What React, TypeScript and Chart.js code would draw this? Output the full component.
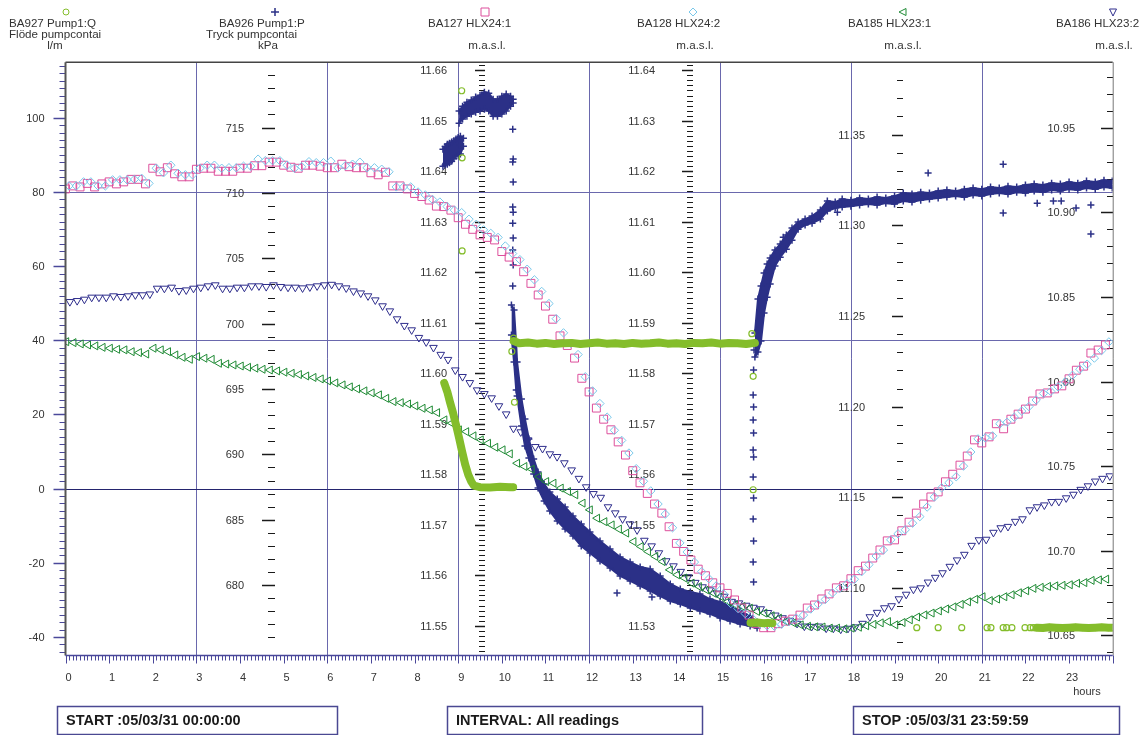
import React, { useEffect, useRef } from "react";
import { Chart, registerables } from "chart.js";

Chart.register(...registerables);

const WIDTH = 1146;
const HEIGHT = 735;
const PLOT = { left: 65.5, top: 62.2, right: 1112.7, bottom: 655.5 };

// Level loggers record every 10 minutes from 00:00
const STEP_H = 1 / 6;

// BA127 HLX24:1 (m.a.s.l.)
const ba127Level = [
  11.6365, 11.6371, 11.6369, 11.6376, 11.6369, 11.6375, 11.6379, 11.6375, 11.6379, 11.6384,
  11.6384, 11.6375, 11.6406, 11.6399, 11.6407, 11.6395, 11.6389, 11.6389, 11.6404, 11.6406,
  11.6406, 11.6400, 11.6400, 11.6400, 11.6406, 11.6406, 11.6411, 11.6411, 11.6418, 11.6418,
  11.6412, 11.6408, 11.6406, 11.6412, 11.6412, 11.6410, 11.6407, 11.6407, 11.6414, 11.6409,
  11.6407, 11.6407, 11.6397, 11.6393, 11.6398, 11.6371, 11.6371, 11.6365, 11.6356, 11.6350,
  11.6343, 11.6331, 11.6330, 11.6323, 11.6308, 11.6295, 11.6285, 11.6274, 11.6269, 11.6264,
  11.6241, 11.6230, 11.6221, 11.6201, 11.6178, 11.6155, 11.6133, 11.6107, 11.6074, 11.6055,
  11.6030, 11.5990, 11.5963, 11.5931, 11.5909, 11.5888, 11.5864, 11.5838, 11.5807, 11.5783,
  11.5762, 11.5741, 11.5723, 11.5696, 11.5663, 11.5647, 11.5630, 11.5612, 11.5599, 11.5585,
  11.5575, 11.5564, 11.5551, 11.5535, 11.5521, 11.5504, 11.5496, 11.5496, 11.5504, 11.5509,
  11.5513, 11.5521, 11.5535, 11.5541, 11.5553, 11.5563, 11.5575, 11.5579, 11.5593, 11.5609,
  11.5618, 11.5634, 11.5650, 11.5668, 11.5670, 11.5688, 11.5705, 11.5723, 11.5741, 11.5755,
  11.5765, 11.5785, 11.5800, 11.5818, 11.5836, 11.5868, 11.5862, 11.5874, 11.5900, 11.5890,
  11.5909, 11.5919, 11.5929, 11.5945, 11.5959, 11.5961, 11.5969, 11.5975, 11.5989, 11.6006,
  11.6014, 11.6040, 11.6046, 11.6056,
];

// BA128 HLX24:2 (m.a.s.l.)
const ba128Level = [
  11.6171, 11.6171, 11.6179, 11.6179, 11.6171, 11.6171, 11.6183, 11.6183, 11.6183, 11.6184,
  11.6186, 11.6176, 11.6206, 11.6197, 11.6212, 11.6196, 11.6193, 11.6193, 11.6206, 11.6212,
  11.6212, 11.6206, 11.6207, 11.6207, 11.6210, 11.6210, 11.6224, 11.6221, 11.6221, 11.6221,
  11.6212, 11.6206, 11.6209, 11.6219, 11.6217, 11.6217, 11.6220, 11.6207, 11.6211, 11.6214,
  11.6218, 11.6207, 11.6207, 11.6204, 11.6199, 11.6169, 11.6169, 11.6169, 11.6159, 11.6153,
  11.6144, 11.6139, 11.6130, 11.6123, 11.6118, 11.6105, 11.6095, 11.6084, 11.6077, 11.6069,
  11.6052, 11.6037, 11.6025, 11.6006, 11.5985, 11.5962, 11.5938, 11.5908, 11.5880, 11.5859,
  11.5837, 11.5793, 11.5765, 11.5740, 11.5713, 11.5687, 11.5667, 11.5642, 11.5611, 11.5586,
  11.5567, 11.5541, 11.5521, 11.5494, 11.5464, 11.5446, 11.5426, 11.5407, 11.5393, 11.5379,
  11.5363, 11.5344, 11.5334, 11.5324, 11.5314, 11.5304, 11.5300, 11.5299, 11.5303, 11.5308,
  11.5315, 11.5321, 11.5333, 11.5343, 11.5352, 11.5365, 11.5374, 11.5383, 11.5392, 11.5407,
  11.5421, 11.5438, 11.5450, 11.5470, 11.5482, 11.5490, 11.5503, 11.5516, 11.5535, 11.5555,
  11.5573, 11.5583, 11.5595, 11.5616, 11.5644, 11.5670, 11.5672, 11.5676, 11.5700, 11.5703,
  11.5713, 11.5725, 11.5734, 11.5747, 11.5760, 11.5764, 11.5773, 11.5783, 11.5796, 11.5808,
  11.5818, 11.5830, 11.5845, 11.5862,
];

// BA185 HLX23:1 (m.a.s.l.)
const ba185Level = [
  11.2358, 11.2353, 11.2346, 11.2340, 11.2335, 11.2327, 11.2322, 11.2316, 11.2313, 11.2303,
  11.2298, 11.2290, 11.2322, 11.2313, 11.2303, 11.2285, 11.2272, 11.2261, 11.2276, 11.2267,
  11.2261, 11.2239, 11.2235, 11.2230, 11.2224, 11.2217, 11.2212, 11.2206, 11.2202, 11.2197,
  11.2190, 11.2184, 11.2177, 11.2169, 11.2161, 11.2153, 11.2142, 11.2131, 11.2120, 11.2109,
  11.2098, 11.2087, 11.2076, 11.2065, 11.2046, 11.2028, 11.2022, 11.2015, 11.2004, 11.1991,
  11.1982, 11.1967, 11.1927, 11.1909, 11.1872, 11.1862, 11.1839, 11.1817, 11.1798, 11.1776,
  11.1762, 11.1740, 11.1688, 11.1670, 11.1655, 11.1614, 11.1587, 11.1578, 11.1551, 11.1532,
  11.1514, 11.1468, 11.1431, 11.1385, 11.1366, 11.1348, 11.1325, 11.1303, 11.1256, 11.1229,
  11.1201, 11.1174, 11.1146, 11.1100, 11.1073, 11.1055, 11.1027, 11.1008, 11.0990, 11.0972,
  11.0953, 11.0926, 11.0907, 11.0898, 11.0889, 11.0871, 11.0862, 11.0847, 11.0834, 11.0815,
  11.0808, 11.0797, 11.0789, 11.0786, 11.0785, 11.0779, 11.0779, 11.0775, 11.0779, 11.0784,
  11.0792, 11.0800, 11.0808, 11.0815, 11.0797, 11.0810, 11.0825, 11.0840, 11.0852, 11.0862,
  11.0874, 11.0885, 11.0896, 11.0910, 11.0924, 11.0938, 11.0952, 11.0931, 11.0939, 11.0952,
  11.0963, 11.0974, 11.0985, 11.0998, 11.1004, 11.1009, 11.1012, 11.1015, 11.1018, 11.1026,
  11.1030, 11.1042, 11.1045, 11.1049,
];

// BA186 HLX23:2 (m.a.s.l.)
const ba186Level = [
  10.8472, 10.8478, 10.8486, 10.8498, 10.8498, 10.8498, 10.8506, 10.8502, 10.8506, 10.8512,
  10.8512, 10.8517, 10.8551, 10.8551, 10.8557, 10.8537, 10.8541, 10.8551, 10.8557, 10.8565,
  10.8571, 10.8551, 10.8551, 10.8557, 10.8557, 10.8565, 10.8565, 10.8561, 10.8571, 10.8561,
  10.8557, 10.8557, 10.8553, 10.8559, 10.8565, 10.8571, 10.8574, 10.8565, 10.8553, 10.8535,
  10.8523, 10.8506, 10.8482, 10.8447, 10.8417, 10.8370, 10.8331, 10.8305, 10.8260, 10.8234,
  10.8201, 10.8160, 10.8130, 10.8068, 10.8029, 10.7993, 10.7950, 10.7928, 10.7903, 10.7856,
  10.7808, 10.7723, 10.7702, 10.7655, 10.7615, 10.7604, 10.7572, 10.7556, 10.7519, 10.7477,
  10.7427, 10.7377, 10.7337, 10.7315, 10.7259, 10.7223, 10.7188, 10.7158, 10.7123, 10.7061,
  10.7028, 10.6987, 10.6940, 10.6910, 10.6877, 10.6845, 10.6812, 10.6786, 10.6768, 10.6749,
  10.6730, 10.6700, 10.6691, 10.6677, 10.6665, 10.6656, 10.6634, 10.6619, 10.6603, 10.6588,
  10.6570, 10.6554, 10.6552, 10.6554, 10.6542, 10.6542, 10.6536, 10.6541, 10.6549, 10.6570,
  10.6609, 10.6635, 10.6662, 10.6674, 10.6715, 10.6742, 10.6772, 10.6780, 10.6814, 10.6842,
  10.6869, 10.6907, 10.6945, 10.6978, 10.7031, 10.7064, 10.7067, 10.7108, 10.7135, 10.7143,
  10.7173, 10.7188, 10.7241, 10.7259, 10.7270, 10.7290, 10.7291, 10.7312, 10.7333, 10.7362,
  10.7383, 10.7411, 10.7427, 10.7442,
];

// First-reading offsets of each logger (hours after 00:00)
const ba127Start = 0.0;
const ba128Start = 0.08;
const ba185Start = 0.02;
const ba186Start = 0.1;

// BA926 Pump1:P (kPa): dense readings given as [hour, low, high] of the reading band
const pumpBandA = [
  [8.65, 712.05, 713.35], [8.70, 712.13, 713.55], [8.75, 712.2, 713.73], [8.8, 712.3, 713.81],
  [8.85, 712.43, 713.89], [8.9, 712.62, 714.0], [8.95, 712.82, 714.12], [9.0, 712.9, 714.25],
  [9.05, 712.97, 714.34], [9.12, 713.58, 714.19],
];
const pumpBandB = [
  [9.02, 715.34, 716.26], [9.1, 715.65, 716.64], [9.2, 715.87, 716.94], [9.3, 716.03, 717.1],
  [9.4, 716.18, 717.33], [9.5, 716.26, 717.48], [9.6, 716.41, 717.71], [9.7, 716.26, 717.63],
  [9.8, 715.87, 717.17], [9.9, 715.87, 717.17], [10.0, 716.03, 717.4], [10.1, 716.26, 717.56],
  [10.2, 716.64, 717.4], [10.26, 716.87, 717.17],
];
const pumpBandC = [
  [10.22, 699.13, 701.42], [10.28, 697.07, 701.04], [10.33, 694.92, 698.37], [10.35, 694.47, 697.07],
  [10.45, 692.17, 694.24], [10.53, 690.64, 692.71], [10.62, 689.72, 691.18], [10.73, 688.5, 689.65],
  [10.83, 687.43, 688.65], [10.97, 686.44, 687.74], [11.1, 685.67, 687.12], [11.27, 684.91, 686.59],
  [11.45, 684.3, 685.98], [11.63, 683.76, 685.29], [11.82, 683.0, 684.68], [12.02, 682.46, 684.07],
  [12.25, 681.85, 683.38], [12.48, 681.32, 682.77], [12.71, 680.7, 682.16], [12.94, 680.32, 681.77],
  [13.17, 679.94, 681.39], [13.4, 679.56, 681.24], [13.63, 679.17, 680.7], [13.86, 678.79, 680.09],
  [14.09, 678.56, 679.71], [14.32, 678.26, 679.48], [14.54, 678.03, 679.33], [14.77, 677.8, 678.94],
  [15.0, 677.49, 678.71], [15.23, 677.26, 678.41], [15.46, 677.03, 678.03], [15.69, 676.88, 677.64],
  [15.85, 676.73, 677.18],
];
const pumpBandD = [
  [15.8, 697.45, 699.28], [15.87, 697.83, 701.88], [15.94, 698.67, 702.88], [16.01, 700.81, 703.87],
  [16.08, 702.03, 704.56], [16.15, 703.03, 705.02], [16.26, 704.41, 705.63], [16.38, 705.09, 706.09],
  [16.52, 705.7, 706.78], [16.65, 706.39, 707.31], [16.79, 707.23, 707.77], [16.95, 707.54, 708.0],
  [17.11, 707.69, 708.23], [17.3, 708.0, 708.69], [17.46, 708.61, 709.38], [17.64, 708.84, 709.3],
  [17.8, 708.92, 709.53], [18.0, 708.99, 709.45], [18.2, 709.07, 709.61], [18.4, 709.15, 709.53],
  [18.6, 709.07, 709.68], [18.8, 709.22, 709.61], [19.0, 709.15, 709.76], [19.2, 709.38, 709.99],
  [19.4, 709.3, 709.91], [19.6, 709.45, 710.06], [19.8, 709.53, 709.99], [20.0, 709.61, 710.14],
  [20.2, 709.68, 710.22], [20.4, 709.76, 710.14], [20.6, 709.68, 710.29], [20.8, 709.84, 710.37],
  [21.0, 709.76, 710.29], [21.2, 709.91, 710.45], [21.4, 709.99, 710.37], [21.6, 709.91, 710.52],
  [21.8, 710.06, 710.45], [22.0, 709.99, 710.6], [22.2, 710.14, 710.68], [22.4, 710.06, 710.6],
  [22.6, 710.22, 710.75], [22.8, 710.14, 710.68], [23.0, 710.29, 710.83], [23.2, 710.22, 710.75],
  [23.4, 710.37, 710.91], [23.6, 710.29, 710.83], [23.8, 710.45, 710.98], [23.99, 710.37, 710.91],
];
// Single pressure readings outside the dense bands [hour, kPa]
const pumpSingles = [
  [9.03, 713.66],
  [10.25, 714.88], [10.26, 712.59], [10.25, 712.36], [10.26, 710.83], [10.25, 708.92], [10.26, 708.53],
  [10.25, 707.69], [10.26, 706.55], [10.25, 705.63], [10.26, 704.48], [10.25, 702.88],
  [12.64, 679.4], [13.44, 679.09],
  [15.77, 680.24], [15.76, 681.77], [15.77, 683.38], [15.76, 685.06], [15.77, 686.67], [15.76, 688.27],
  [15.77, 689.8], [15.76, 690.34], [15.77, 691.64], [15.76, 692.63], [15.77, 693.63], [15.76, 694.54],
  [15.77, 696.45], [15.78, 697.98],
  [16.45, 706.62], [17.69, 708.53], [19.77, 711.52], [21.49, 712.2], [21.49, 708.46], [22.27, 709.22],
  [22.64, 709.38], [22.82, 709.38], [23.16, 708.84], [23.5, 709.07], [23.5, 706.85],
];

// BA927 Pump1:Q (l/m): continuous runs [hour, l/m]
const flowRampDown = [
  [8.68, 28.5], [8.75, 26.1], [8.81, 23.4], [8.88, 20.5], [8.95, 17.2], [9.02, 13.7], [9.09, 10.0],
  [9.16, 6.5], [9.23, 3.8], [9.3, 1.9], [9.36, 0.8], [9.5, 0.4], [9.73, 0.3], [9.96, 0.5], [10.19, 0.4],
  [10.26, 0.4],
];
const flowPumping = [
  [10.27, 39.8], [10.4, 39.2], [10.6, 39.4], [10.8, 39.1], [11.0, 39.3], [11.2, 39.0], [11.4, 39.2],
  [11.6, 39.3], [11.8, 39.0], [12.0, 39.2], [12.2, 39.4], [12.4, 39.1], [12.6, 39.2], [12.8, 39.0],
  [13.0, 39.3], [13.2, 39.1], [13.4, 39.2], [13.6, 39.4], [13.8, 39.1], [14.0, 39.2], [14.2, 39.0],
  [14.4, 39.3], [14.6, 39.2], [14.8, 39.4], [15.0, 39.1], [15.2, 39.3], [15.4, 39.2], [15.6, 39.0],
  [15.8, 39.3],
];
const flowAfterStop = [[15.7, -36.2], [15.85, -36.1], [16.0, -36.3], [16.1, -36.2], [16.2, -36.3]];
const flowEvening = [
  [22.26, -37.5], [22.4, -37.6], [22.55, -37.4], [22.7, -37.5], [22.85, -37.6], [23.0, -37.5],
  [23.15, -37.4], [23.3, -37.5], [23.45, -37.6], [23.6, -37.5], [23.75, -37.4], [23.9, -37.5], [24.0, -37.5],
];
const flowSingles = [
  [9.08, 107.3], [9.09, 89.2], [9.09, 64.1], [10.23, 37.0], [10.29, 23.3], [10.27, 40.6],
  [15.73, 41.8], [15.76, 30.3], [15.76, -0.3],
  [19.51, -37.5], [20.0, -37.5], [20.54, -37.5], [21.12, -37.5], [21.21, -37.5], [21.49, -37.5],
  [21.57, -37.5], [21.69, -37.5], [21.99, -37.5], [22.11, -37.5], [22.18, -37.5],
];

// Axis ranges
const X_RANGE = [0, 24];
const FLOW_RANGE = [-45, 115];
const KPA_RANGE = [674.62, 720.0];
const HLX241_RANGE = [11.5441, 11.6616];
const HLX242_RANGE = [11.5241, 11.6416];
const HLX231_RANGE = [11.0628, 11.3899];
const HLX232_RANGE = [10.6381, 10.9888];

const gridHours = [3, 6, 9, 12, 15, 18, 21];
const gridFlows = [80, 40];
const xTickLabels = Array.from({ length: 24 }, (_, h) => String(h));

// Colours
const LIME = "#84bd2b";
const PUMP_NAVY = "#2b3087";
const PINK = "#dd4f9c";
const SKY = "#79c8ea";
const LEAF = "#1e8a34";
const TRI_NAVY = "#2e2d8c";
const GRID = "#6a68ad";
const ZERO = "#24246e";
const AXIS_NAVY = "#4a489a";
const TEXT = "#333333";
const FONT = "11px 'Liberation Sans', Arial, sans-serif";
const HEAD_FONT = "11.6px 'Liberation Sans', Arial, sans-serif";
const BOLD = "bold 14.5px 'Liberation Sans', Arial, sans-serif";

// Interior level/pressure axes
const innerAxes = [
  { id: "kpa", hour: 4.81, minor: 1, ratio: 5, dec: 0, from: 680, to: 715, tickMin: 676, tickMax: 719, gap: 31, major: 13, minorLen: 7 },
  { id: "hlx241", hour: 9.614, minor: 0.001, ratio: 10, dec: 2, from: 11.55, to: 11.66, gap: 38, major: 10, minorLen: 6 },
  { id: "hlx242", hour: 14.388, minor: 0.001, ratio: 10, dec: 2, from: 11.53, to: 11.64, gap: 38, major: 11, minorLen: 6 },
  { id: "hlx231", hour: 19.201, minor: 0.01, ratio: 5, dec: 2, from: 11.1, to: 11.35, gap: 38, major: 11, minorLen: 6 },
  { id: "hlx232", hour: 24, minor: 0.01, ratio: 5, dec: 2, from: 10.65, to: 10.95, gap: 38, major: 12, minorLen: 6 },
];

const headers = [
  { sym: "circle", hour: 0, color: LIME, lines: [["BA927 Pump1:Q", "left", 9, 24], ["Flöde pumpcontai", "left", 9, 35], ["l/m", "center", 55, 46]] },
  { sym: "cross", hour: 4.81, color: PUMP_NAVY, lines: [["BA926 Pump1:P", "left", 219, 24], ["Tryck pumpcontai", "left", 206, 35], ["kPa", "center", 268, 46]] },
  { sym: "square", hour: 9.614, color: PINK, lines: [["BA127 HLX24:1", "left", 428, 24], ["m.a.s.l.", "center", 487, 46]] },
  { sym: "diamond", hour: 14.388, color: SKY, lines: [["BA128 HLX24:2", "left", 637, 24], ["m.a.s.l.", "center", 695, 46]] },
  { sym: "tleft", hour: 19.201, color: LEAF, lines: [["BA185 HLX23:1", "left", 848, 24], ["m.a.s.l.", "center", 903, 46]] },
  { sym: "tdown", hour: 24, color: TRI_NAVY, lines: [["BA186 HLX23:2", "left", 1056, 24], ["m.a.s.l.", "center", 1114, 46]] },
];

const infoBoxes = [
  { text: "START :05/03/31 00:00:00", x: 57, w: 280 },
  { text: "INTERVAL: All readings", x: 447, w: 255 },
  { text: "STOP :05/03/31 23:59:59", x: 853, w: 266 },
];

function seg(ctx: CanvasRenderingContext2D, x1: number, y1: number, x2: number, y2: number) {
  ctx.beginPath();
  ctx.moveTo(x1, y1);
  ctx.lineTo(x2, y2);
  ctx.stroke();
}

function drawSymbol(ctx: CanvasRenderingContext2D, kind: string, cx: number, cy: number, color: string) {
  ctx.save();
  ctx.strokeStyle = color;
  ctx.lineWidth = 1;
  ctx.beginPath();
  if (kind === "circle") ctx.arc(cx, cy, 3, 0, Math.PI * 2);
  if (kind === "cross") {
    ctx.lineWidth = 1.5;
    ctx.moveTo(cx - 4, cy); ctx.lineTo(cx + 4, cy);
    ctx.moveTo(cx, cy - 4); ctx.lineTo(cx, cy + 4);
  }
  if (kind === "square") ctx.rect(cx - 4, cy - 4, 8, 8);
  if (kind === "diamond") {
    ctx.moveTo(cx - 4, cy); ctx.lineTo(cx, cy - 4); ctx.lineTo(cx + 4, cy); ctx.lineTo(cx, cy + 4); ctx.closePath();
  }
  if (kind === "tleft") {
    ctx.moveTo(cx - 4, cy); ctx.lineTo(cx + 3, cy - 3.5); ctx.lineTo(cx + 3, cy + 3.5); ctx.closePath();
  }
  if (kind === "tdown") {
    ctx.moveTo(cx - 3.5, cy - 3); ctx.lineTo(cx + 3.5, cy - 3); ctx.lineTo(cx, cy + 4); ctx.closePath();
  }
  ctx.stroke();
  ctx.restore();
}

const framePlugin = {
  id: "frame",
  beforeDatasetsDraw(chart: any) {
    const { ctx, chartArea: a, scales } = chart;
    const xs = scales.x;
    const fy = scales.flow;
    ctx.save();
    ctx.lineWidth = 1;

    ctx.strokeStyle = GRID;
    gridHours.forEach((h) => {
      const p = Math.round(xs.getPixelForValue(h)) + 0.5;
      seg(ctx, p, a.top, p, a.bottom);
    });
    gridFlows.forEach((v) => {
      const p = Math.round(fy.getPixelForValue(v)) + 0.5;
      seg(ctx, a.left, p, a.right, p);
    });
    ctx.strokeStyle = ZERO;
    const z = Math.round(fy.getPixelForValue(0)) + 0.5;
    seg(ctx, a.left, z, a.right, z);

    // flow axis on the left edge
    ctx.font = FONT;
    ctx.fillStyle = TEXT;
    ctx.textAlign = "right";
    ctx.textBaseline = "middle";
    ctx.strokeStyle = AXIS_NAVY;
    for (let v = -44; v <= 114; v += 2) {
      const p = Math.round(fy.getPixelForValue(v)) + 0.5;
      const major = v % 20 === 0;
      ctx.lineWidth = major ? 1.5 : 1;
      seg(ctx, a.left - (major ? 12 : 6), p, a.left, p);
      if (major) ctx.fillText(String(v), a.left - 21, p);
    }

    // interior axes
    innerAxes.forEach((ax) => {
      const sc = scales[ax.id];
      const px = Math.round(xs.getPixelForValue(ax.hour));
      const lo = ax.tickMin ?? sc.min;
      const hi = ax.tickMax ?? sc.max;
      const k0 = Math.ceil(lo / ax.minor - 1e-6);
      const k1 = Math.floor(hi / ax.minor + 1e-6);
      ctx.strokeStyle = "#1a1a1a";
      for (let k = k0; k <= k1; k++) {
        const v = k * ax.minor;
        const p = Math.round(sc.getPixelForValue(v)) + 0.5;
        const major = k % ax.ratio === 0;
        ctx.lineWidth = major ? 1.5 : 1;
        seg(ctx, px - (major ? ax.major : ax.minorLen), p, px, p);
        if (major && v >= ax.from - 1e-6 && v <= ax.to + 1e-6) {
          ctx.fillText(v.toFixed(ax.dec), px - ax.gap, p);
        }
      }
    });
    ctx.restore();
  },
  afterDatasetsDraw(chart: any) {
    const { ctx, chartArea: a, scales } = chart;
    const xs = scales.x;
    ctx.save();
    // frame
    ctx.strokeStyle = "#444";
    ctx.lineWidth = 1.5;
    seg(ctx, a.left, a.top, a.right, a.top);
    ctx.lineWidth = 2;
    ctx.strokeStyle = "#555";
    seg(ctx, a.left, a.top, a.left, a.bottom);
    ctx.lineWidth = 1;
    ctx.strokeStyle = "#777";
    seg(ctx, a.right + 0.5, a.top, a.right + 0.5, a.bottom);

    // time axis
    ctx.strokeStyle = AXIS_NAVY;
    ctx.lineWidth = 1.5;
    seg(ctx, a.left, a.bottom, a.right, a.bottom);
    ctx.lineWidth = 1;
    for (let m = 0; m <= 288; m++) {
      const p = Math.round(xs.getPixelForValue(m / 12)) + 0.5;
      seg(ctx, p, a.bottom, p, a.bottom + (m % 12 === 0 ? 8 : 5));
    }
    ctx.font = FONT;
    ctx.fillStyle = TEXT;
    ctx.textAlign = "center";
    ctx.textBaseline = "middle";
    xTickLabels.forEach((t, h) => ctx.fillText(t, xs.getPixelForValue(h) + 3, a.bottom + 22));
    ctx.fillText("hours", 1087, 692);
    ctx.restore();
  },
  afterDraw(chart: any) {
    const { ctx, scales } = chart;
    const xs = scales.x;
    ctx.save();
    ctx.font = HEAD_FONT;
    ctx.fillStyle = TEXT;
    ctx.textBaseline = "middle";
    headers.forEach((h) => {
      drawSymbol(ctx, h.sym, Math.round(xs.getPixelForValue(h.hour)), 12, h.color);
      h.lines.forEach(([t, align, x, y]: any) => {
        ctx.textAlign = align;
        ctx.fillText(t, x, y);
      });
    });
    ctx.font = BOLD;
    ctx.textAlign = "left";
    ctx.fillStyle = "#1a1a1a";
    ctx.strokeStyle = "#4a4892";
    ctx.lineWidth = 1.5;
    infoBoxes.forEach((b) => {
      ctx.strokeRect(b.x + 0.5, 706.5, b.w, 28);
      ctx.fillText(b.text, b.x + 9, 720.5);
    });
    ctx.restore();
  },
};

const pts = (rows: number[][], col = 1) => rows.map((r) => ({ x: r[0], y: r[col] }));
const logged = (vals: number[], start: number) => vals.map((v, i) => ({ x: start + i * STEP_H, y: v }));

function bandPair(rows: number[][]) {
  const common = {
    yAxisID: "kpa",
    showLine: true,
    borderColor: PUMP_NAVY,
    borderWidth: 2,
    pointStyle: "cross",
    pointRadius: 3.5,
    pointBorderWidth: 1.5,
    pointBorderColor: PUMP_NAVY,
    order: 10,
  };
  return [
    { ...common, label: "BA926 Pump1:P", data: pts(rows, 1), fill: false },
    { ...common, label: "BA926 Pump1:P", data: pts(rows, 2), fill: "-1", backgroundColor: PUMP_NAVY },
  ];
}

function flowRun(rows: number[][]) {
  return {
    label: "BA927 Pump1:Q",
    yAxisID: "flow",
    data: pts(rows),
    showLine: true,
    borderColor: LIME,
    borderWidth: 8,
    borderCapStyle: "round",
    borderJoinStyle: "round",
    pointStyle: "circle",
    pointRadius: 3,
    pointBorderWidth: 1,
    pointBorderColor: LIME,
    pointBackgroundColor: "rgba(0,0,0,0)",
    fill: false,
    order: 1,
  };
}

function markerSeries(label: string, axis: string, data: any[], color: string, style: string, radius: number, rotation: number, order: number) {
  return {
    label,
    yAxisID: axis,
    data,
    showLine: false,
    pointStyle: style,
    pointRadius: radius,
    pointRotation: rotation,
    pointBorderWidth: 1,
    pointBorderColor: color,
    pointBackgroundColor: "rgba(0,0,0,0)",
    order,
  };
}

export default function App() {
  const ref = useRef<HTMLCanvasElement>(null);

  useEffect(() => {
    const canvas = ref.current;
    if (!canvas) return;
    const datasets: any[] = [
      ...bandPair(pumpBandA),
      ...bandPair(pumpBandB),
      ...bandPair(pumpBandC),
      ...bandPair(pumpBandD),
      {
        ...markerSeries("BA926 Pump1:P", "kpa", pts(pumpSingles), PUMP_NAVY, "cross", 3.5, 0, 9),
        pointBorderWidth: 1.5,
      },
      markerSeries("BA186 HLX23:2", "hlx232", logged(ba186Level, ba186Start), TRI_NAVY, "triangle", 4.4, 180, 5),
      markerSeries("BA185 HLX23:1", "hlx231", logged(ba185Level, ba185Start), LEAF, "triangle", 4.6, -90, 4),
      markerSeries("BA127 HLX24:1", "hlx241", logged(ba127Level, ba127Start), PINK, "rect", 5.6, 0, 3),
      markerSeries("BA128 HLX24:2", "hlx242", logged(ba128Level, ba128Start), SKY, "rectRot", 4.2, 0, 2),
      flowRun(flowRampDown),
      flowRun(flowPumping),
      flowRun(flowAfterStop),
      flowRun(flowEvening),
      { ...markerSeries("BA927 Pump1:Q", "flow", pts(flowSingles), LIME, "circle", 3, 0, 1), pointBorderWidth: 1.2 },
    ];

    const axis = (range: number[]) => ({ type: "linear", min: range[0], max: range[1], display: false });

    const chart = new Chart(canvas, {
      type: "scatter",
      data: { datasets },
      options: {
        animation: false,
        responsive: false,
        devicePixelRatio: 1,
        events: [],
        layout: {
          padding: {
            left: PLOT.left,
            top: PLOT.top,
            right: WIDTH - PLOT.right,
            bottom: HEIGHT - PLOT.bottom,
          },
        },
        elements: { line: { tension: 0 } },
        plugins: { legend: { display: false }, tooltip: { enabled: false } },
        scales: {
          x: axis(X_RANGE),
          flow: axis(FLOW_RANGE),
          kpa: axis(KPA_RANGE),
          hlx241: axis(HLX241_RANGE),
          hlx242: axis(HLX242_RANGE),
          hlx231: axis(HLX231_RANGE),
          hlx232: axis(HLX232_RANGE),
        },
      } as any,
      plugins: [framePlugin as any],
    });
    return () => chart.destroy();
  }, []);

  return (
    <div style={{ position: "absolute", left: 0, top: 0, width: WIDTH, height: HEIGHT, background: "#fff" }}>
      <canvas ref={ref} width={WIDTH} height={HEIGHT} style={{ display: "block", width: WIDTH, height: HEIGHT }} />
    </div>
  );
}
